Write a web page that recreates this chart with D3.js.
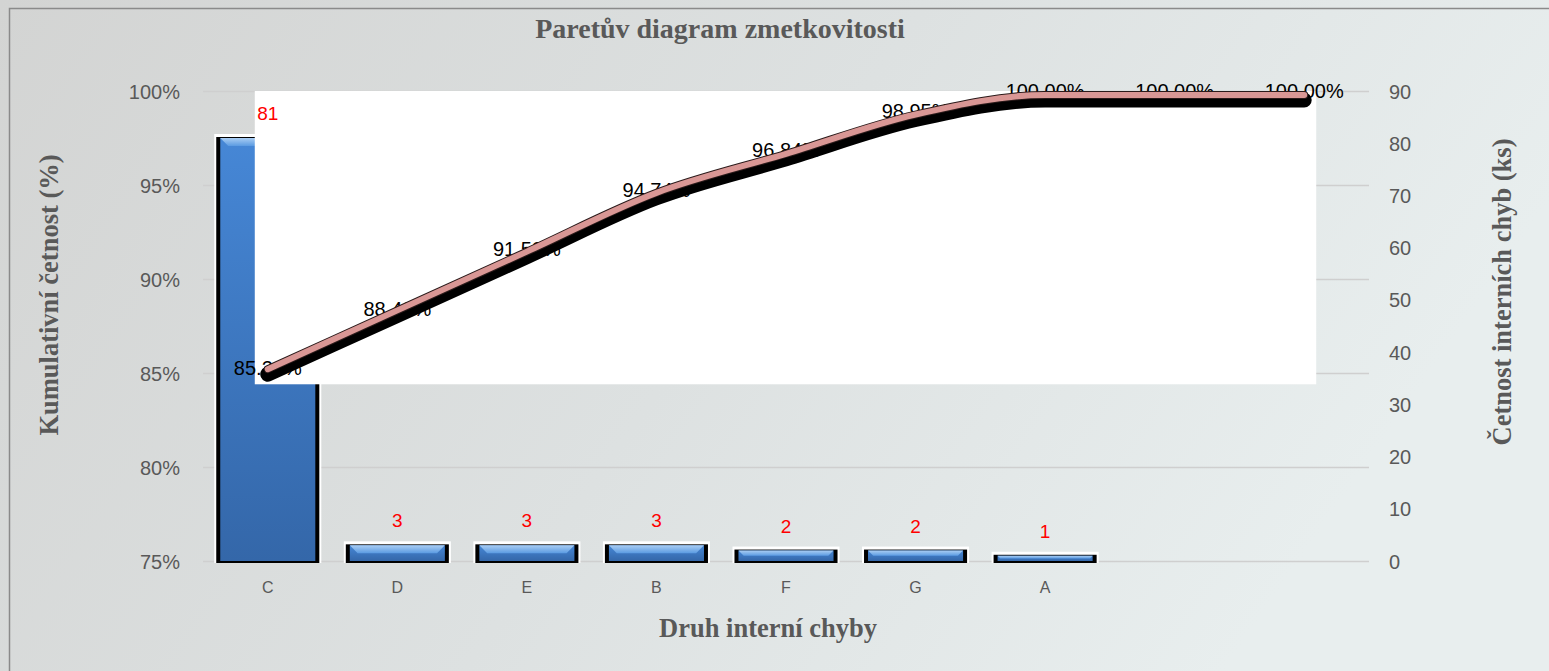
<!DOCTYPE html>
<html>
<head>
<meta charset="utf-8">
<script src="https://cdn.jsdelivr.net/npm/d3@7"></script>
<style>
  body { margin: 0; padding: 0; overflow: hidden; }
  svg { display: block; }
</style>
</head>
<body>
<svg id="chart" width="1549" height="671"></svg>
<script>
// data
var categories = ['C', 'D', 'E', 'B', 'F', 'G', 'A', '', ' '];
var counts = [81, 3, 3, 3, 2, 2, 1];
var cumulative = [85.26, 88.42, 91.58, 94.74, 96.84, 98.95, 100.00, 100.00, 100.00];
var pctTicks = [75, 80, 85, 90, 95, 100];
var countTicks = [0, 10, 20, 30, 40, 50, 60, 70, 80, 90];

var svg = d3.select('#chart');
var W = 1549, H = 671;

// background
var defs = svg.append('defs');
var bg = defs.append('linearGradient').attr('id', 'bg').attr('x1', 0).attr('y1', 0).attr('x2', 1).attr('y2', 0.3);
bg.append('stop').attr('offset', '0%').attr('stop-color', '#d3d4d3');
bg.append('stop').attr('offset', '55%').attr('stop-color', '#dde1e1');
bg.append('stop').attr('offset', '100%').attr('stop-color', '#e8eeee');

var barGrad = defs.append('linearGradient').attr('id', 'barGrad').attr('x1', 0).attr('y1', 0).attr('x2', 0).attr('y2', 1);
barGrad.append('stop').attr('offset', '0%').attr('stop-color', '#4687d6');
barGrad.append('stop').attr('offset', '100%').attr('stop-color', '#3467a9');
var bevel = defs.append('linearGradient').attr('id', 'bevel').attr('x1', 0).attr('y1', 0).attr('x2', 0).attr('y2', 1);
bevel.append('stop').attr('offset', '0%').attr('stop-color', '#a9cdf3');
bevel.append('stop').attr('offset', '100%').attr('stop-color', '#5b9be2');

svg.append('rect').attr('width', W).attr('height', H).attr('fill', 'url(#bg)');
svg.append('rect').attr('x', 9.5).attr('y', 8.5).attr('width', W + 10).attr('height', H + 10)
  .attr('fill', 'none').attr('stroke', '#8a8a8a').attr('stroke-width', 1.5);

// scales
var x = d3.scaleBand().domain(categories).range([203, 1369]).paddingInner(0.22).paddingOuter(0.11);
var yPct = d3.scaleLinear().domain([75, 100]).range([561, 91]);
var yCnt = d3.scaleLinear().domain([0, 90]).range([561, 91]);
// the line series sits in its own plot box, slightly lower than the left axis
var yLine = d3.scaleLinear().domain([75, 100]).range([560, 95]);

// gridlines
svg.append('g').selectAll('line').data(pctTicks).join('line')
  .attr('x1', 203).attr('x2', 1369)
  .attr('y1', function(d) { return yPct(d) + 0.5; }).attr('y2', function(d) { return yPct(d) + 0.5; })
  .attr('stroke', '#cfcfcf').attr('stroke-width', 1.5);

// axes
var axL = svg.append('g').attr('transform', 'translate(180,0)')
  .call(d3.axisLeft(yPct).tickValues(pctTicks).tickSize(0).tickPadding(0).tickFormat(function(d) { return d + '%'; }));
var axR = svg.append('g').attr('transform', 'translate(1389,0)')
  .call(d3.axisRight(yCnt).tickValues(countTicks).tickSize(0).tickPadding(0));
var axB = svg.append('g').attr('transform', 'translate(0,581)')
  .call(d3.axisBottom(x).tickSize(0).tickPadding(0));
[axL, axR, axB].forEach(function(a) {
  a.select('.domain').remove();
  a.selectAll('text').attr('fill', '#595959').style('font-family', 'Liberation Sans, Arial, sans-serif');
});
axL.selectAll('text').style('font-size', '20px').attr('dy', '0.35em');
axR.selectAll('text').style('font-size', '20px').attr('dy', '0.35em');
axB.selectAll('text').style('font-size', '16px').attr('dy', '0.75em');

// bars
var bw = x.bandwidth();
var bars = svg.append('g').selectAll('g').data(counts).join('g')
  .attr('transform', function(d, i) { return 'translate(' + x(categories[i]) + ',0)'; });
bars.append('rect') // white outline
  .attr('x', -3).attr('y', function(d) { return yCnt(d) - 4; })
  .attr('width', bw + 6).attr('height', function(d) { return yCnt(0) - yCnt(d) + 6; })
  .attr('fill', '#ffffff');
bars.append('rect') // black shadow
  .attr('x', -1).attr('y', function(d) { return yCnt(d) - 1; })
  .attr('width', bw + 2).attr('height', function(d) { return yCnt(0) - yCnt(d) + 3; })
  .attr('fill', '#000000');
bars.append('rect')
  .attr('x', 3).attr('y', function(d) { return yCnt(d); })
  .attr('width', bw - 6).attr('height', function(d) { return yCnt(0) - yCnt(d); })
  .attr('fill', 'url(#barGrad)');
bars.append('path') // top bevel
  .attr('d', function(d) {
    var t = yCnt(d), h = Math.min(8, (yCnt(0) - t) / 2);
    return 'M3,' + t + 'L' + (bw - 3) + ',' + t + 'L' + (bw - 3 - h) + ',' + (t + h) + 'L' + (3 + h) + ',' + (t + h) + 'Z';
  })
  .attr('fill', 'url(#bevel)');

// white plot box of the line series
var boxX0 = x('C') + bw / 2 - 13, boxX1 = x(' ') + bw / 2 + 12;
svg.append('rect')
  .attr('x', boxX0).attr('y', yPct(100))
  .attr('width', boxX1 - boxX0).attr('height', yPct(84.4) - yPct(100))
  .attr('fill', '#ffffff');

// bar value labels
svg.append('g').selectAll('text').data(counts).join('text')
  .attr('x', function(d, i) { return x(categories[i]) + bw / 2; })
  .attr('y', function(d) { return yCnt(d) - 18; })
  .attr('text-anchor', 'middle')
  .attr('fill', '#ff0000')
  .style('font-family', 'Liberation Sans, Arial, sans-serif').style('font-size', '19px')
  .text(function(d) { return d; });

// percentage labels
svg.append('g').selectAll('text').data(cumulative).join('text')
  .attr('x', function(d, i) { return x(categories[i]) + bw / 2; })
  .attr('y', function(d) { return yPct(d) + 7; })
  .attr('text-anchor', 'middle')
  .attr('fill', '#000000')
  .style('font-family', 'Liberation Sans, Arial, sans-serif').style('font-size', '20px')
  .text(function(d) { return d.toFixed(2) + '%'; });

// cumulative line
var line = d3.line()
  .x(function(d, i) { return x(categories[i]) + bw / 2; })
  .y(function(d) { return yLine(d); })
  .curve(d3.curveMonotoneX);
svg.append('path').datum(cumulative).attr('d', line)
  .attr('transform', 'translate(0,5)')
  .attr('fill', 'none').attr('stroke', '#000').attr('stroke-width', 15)
  .attr('stroke-linecap', 'round').attr('stroke-linejoin', 'round');
svg.append('path').datum(cumulative).attr('d', line)
  .attr('fill', 'none').attr('stroke', '#2a1a1a').attr('stroke-width', 8)
  .attr('stroke-linecap', 'round');
svg.append('path').datum(cumulative).attr('d', line)
  .attr('fill', 'none').attr('stroke', '#d99795').attr('stroke-width', 6)
  .attr('stroke-linecap', 'round');

// titles
svg.append('text').attr('x', 720).attr('y', 38).attr('text-anchor', 'middle')
  .attr('fill', '#595959').style('font-family', 'Liberation Serif, Times New Roman, serif')
  .style('font-weight', 'bold').style('font-size', '28px')
  .text('Paretův diagram zmetkovitosti');
svg.append('text').attr('x', 768).attr('y', 637).attr('text-anchor', 'middle')
  .attr('fill', '#595959').style('font-family', 'Liberation Serif, Times New Roman, serif')
  .style('font-weight', 'bold').style('font-size', '26.5px')
  .text('Druh interní chyby');
svg.append('text').attr('transform', 'translate(58,295) rotate(-90)').attr('text-anchor', 'middle')
  .attr('fill', '#595959').style('font-family', 'Liberation Serif, Times New Roman, serif')
  .style('font-weight', 'bold').style('font-size', '26.5px')
  .text('Kumulativní četnost (%)');
svg.append('text').attr('transform', 'translate(1511,292) rotate(-90)').attr('text-anchor', 'middle')
  .attr('fill', '#595959').style('font-family', 'Liberation Serif, Times New Roman, serif')
  .style('font-weight', 'bold').style('font-size', '26.5px')
  .text('Četnost interních chyb (ks)');
</script>
</body>
</html>
